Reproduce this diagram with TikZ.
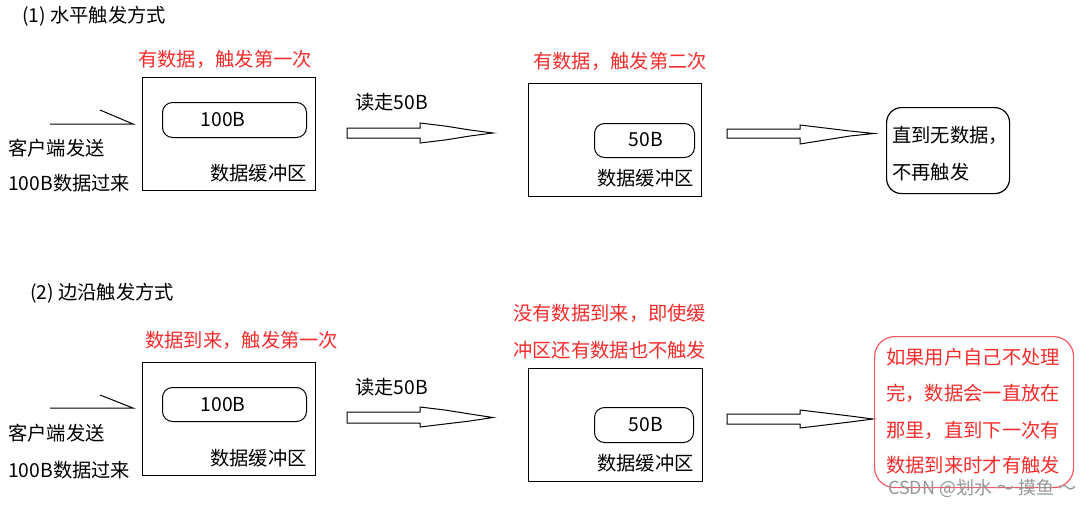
\documentclass[tikz,border=0pt]{standalone}
\usepackage{fontspec}
\setmainfont{Noto Sans CJK SC}
\definecolor{myred}{RGB}{245,45,45}
\definecolor{boxred}{RGB}{240,90,100}
\definecolor{wmgray}{RGB}{150,150,150}
\begin{document}
\begin{tikzpicture}[x=1pt,y=-1pt,
  txt/.style={anchor=west,inner sep=0pt,font=\fontsize{19.3}{23}\selectfont},
  rtxt/.style={txt,text=myred},
  buf/.style={draw,line width=1.3pt,anchor=north west,inner sep=0pt},
  pill/.style={draw,line width=1pt,rounded corners=10pt,anchor=north west,inner sep=0pt},
  blockarrow/.style={draw,line width=1pt,fill=white,line join=miter},
  sendline/.style={draw,line width=1pt}
]
\path[fill=white,use as bounding box] (0,0) rectangle (1090,507);

% ---------- (1) level triggered ----------
\node[txt] (t1) at (22,16) {(1) 水平触发方式};
\node[rtxt] (r1) at (138,59) {有数据，触发第一次};

\node[buf,minimum width=173pt,minimum height=113pt] (b1) at (142,77) {};
\node[pill,minimum width=144pt,minimum height=35pt] (p1) at (162,102) {};
\node[txt,anchor=center] (p1t) at (223,120) {100B};
\node[txt] (b1l) at (210,173) {数据缓冲区};

\coordinate (c1a) at (50,124);
\coordinate (c1b) at (133,124);
\coordinate (c1c) at (100,110);
\draw[sendline] (c1a) -- (c1b) -- (c1c);
\node[txt] (s1a) at (8,148) {客户端发送};
\node[txt] (s1b) at (8,183) {100B数据过来};

\node[txt] (rd1) at (355,102) {读走50B};
\draw[blockarrow] (347,128) -- (420,128) -- (420,123) -- (445,126) -- (470,130) -- (493,133)
   -- (470,136) -- (445,140) -- (420,143) -- (420,138) -- (347,138) -- cycle;

\node[rtxt] (r2) at (533,61) {有数据，触发第二次};
\node[buf,minimum width=173pt,minimum height=113pt] (b2) at (528,83) {};
\node[pill,minimum width=100pt,minimum height=34pt] (p2) at (594,123) {};
\node[txt,anchor=center] (p2t) at (646,140) {50B};
\node[txt] (b2l) at (597,178) {数据缓冲区};

\draw[blockarrow] (727,129) -- (800,129) -- (800,125) -- (825,128) -- (850,131) -- (874,133.5)
   -- (850,136) -- (825,140) -- (800,144) -- (800,138) -- (727,138) -- cycle;

\node[draw,line width=1.2pt,rounded corners=15pt,anchor=north west,minimum width=123pt,minimum height=86pt] (e1) at (886,107) {};
\node[txt] (e1a) at (892,135) {直到无数据，};
\node[txt] (e1b) at (892,172) {不再触发};

% ---------- (2) edge triggered ----------
\node[txt] (t2) at (30,293) {(2) 边沿触发方式};
\node[rtxt] (r3) at (145,340) {数据到来，触发第一次};

\node[buf,minimum width=173pt,minimum height=113pt] (b3) at (142,362) {};
\node[pill,minimum width=144pt,minimum height=34pt] (p3) at (162,387) {};
\node[txt,anchor=center] (p3t) at (223,405) {100B};
\node[txt] (b3l) at (210,458) {数据缓冲区};

\coordinate (c2a) at (50,408);
\coordinate (c2b) at (133,408);
\coordinate (c2c) at (100,395);
\draw[sendline] (c2a) -- (c2b) -- (c2c);
\node[txt] (s2a) at (8,433) {客户端发送};
\node[txt] (s2b) at (8,470) {100B数据过来};

\node[txt] (rd2) at (355,387) {读走50B};
\draw[blockarrow] (347,412) -- (420,412) -- (420,407) -- (445,410) -- (470,414) -- (493,417.5)
   -- (470,421) -- (445,424) -- (420,427) -- (420,423) -- (347,423) -- cycle;

\node[rtxt] (r4a) at (513,313) {没有数据到来，即使缓};
\node[rtxt] (r4b) at (513,350) {冲区还有数据也不触发};
\node[buf,minimum width=174pt,minimum height=113pt] (b4) at (528,368) {};
\node[pill,minimum width=99pt,minimum height=35pt] (p4) at (594,407) {};
\node[txt,anchor=center] (p4t) at (646,425) {50B};
\node[txt] (b4l) at (597,463) {数据缓冲区};

\draw[blockarrow] (727,414) -- (800,414) -- (800,410) -- (825,413) -- (850,416) -- (873,419)
   -- (850,422) -- (825,425) -- (800,428) -- (800,424) -- (727,424) -- cycle;

\node[draw=boxred,line width=1.2pt,rounded corners=20pt,anchor=north west,minimum width=199pt,minimum height=151pt] (e2) at (874,336) {};
\node[rtxt] (e2a) at (886,357) {如果用户自己不处理};
\node[rtxt] (e2b) at (886,393) {完，数据会一直放在};
\node[rtxt] (e2c) at (886,430) {那里，直到下一次有};
\node[rtxt] (e2d) at (886,465) {数据到来时才有触发};

\node[txt,text=wmgray,font=\fontsize{18}{20}\selectfont] (wm) at (888,488) {CSDN @划水 ～ 摸鱼 ～};
\end{tikzpicture}
\end{document}
